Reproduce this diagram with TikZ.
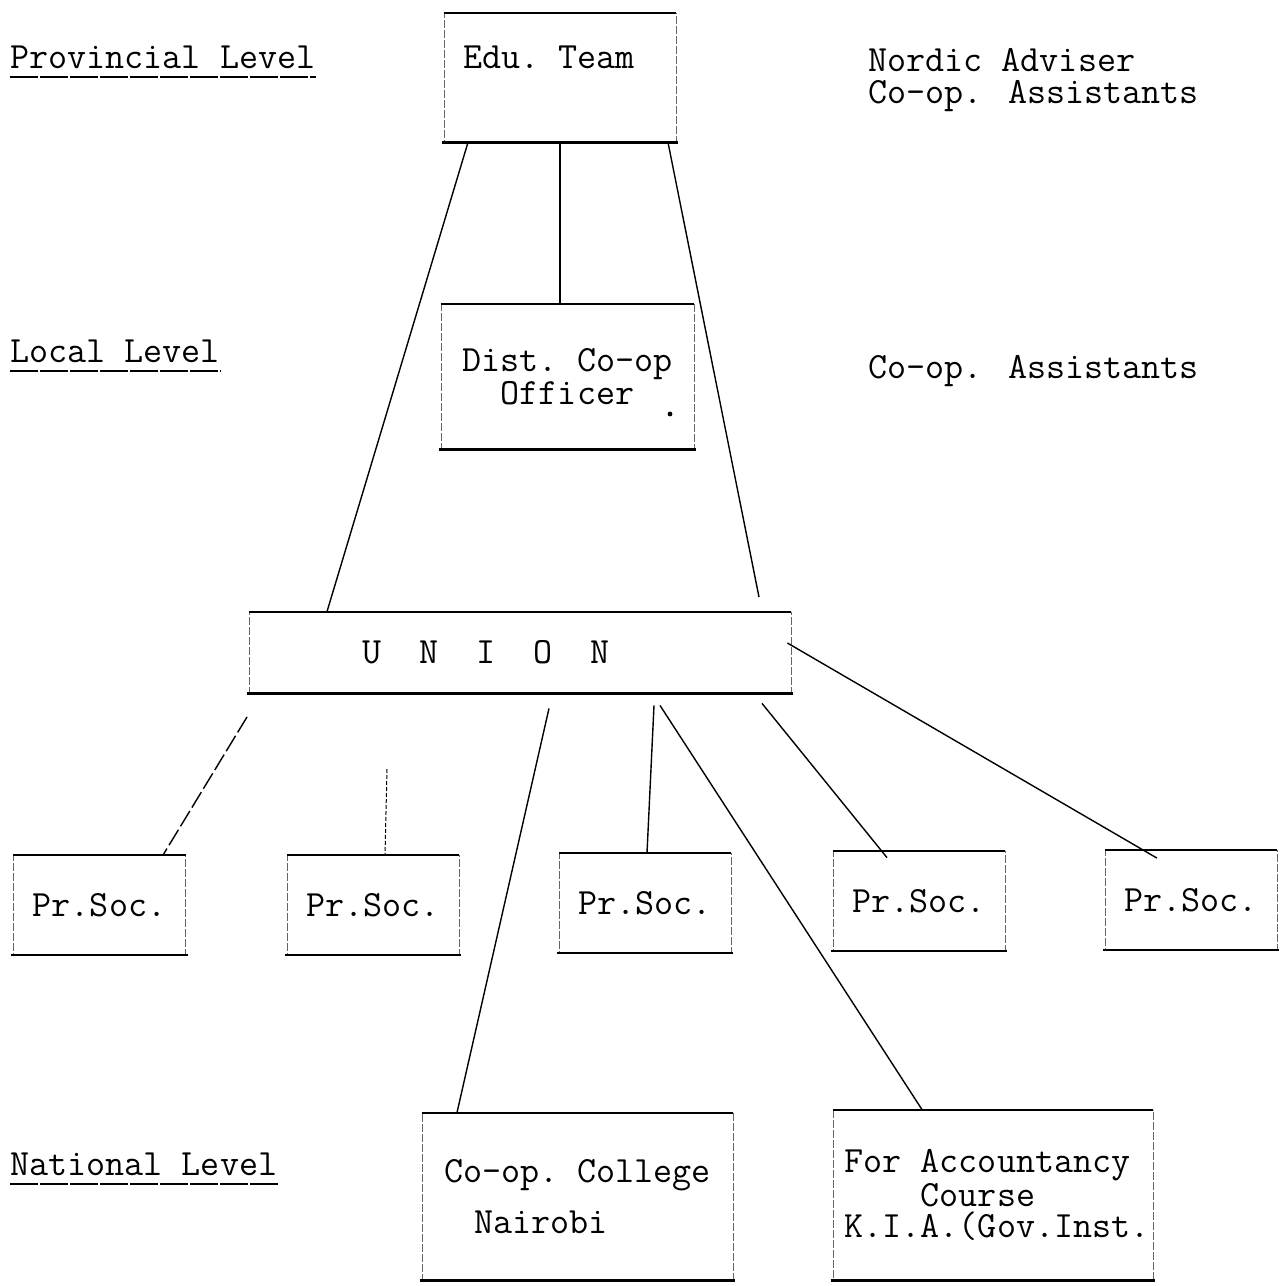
\documentclass[tikz,border=0pt]{standalone}
\usepackage{fontspec}
\usetikzlibrary{positioning}
\newcommand{\tyfont}{\ttfamily\fontsize{18.5}{15.5}\selectfont}
\tikzset{
  box/.style={draw=black!60, line width=0.4pt, dash pattern=on 4pt off 1pt,
    inner sep=0pt, font=\tyfont},
  hrule/.style={line width=1.1pt, shorten <=-1pt, shorten >=-1pt},
  link/.style={line width=0.7pt},
  lbl/.style={inner sep=0pt, anchor=base west, font=\tyfont},
  uline/.style={line width=1.2pt, dash pattern=on 14pt off 1pt},
}

\begin{document}
\begin{tikzpicture}[x=0.5pt, y=-0.5pt]
  \useasboundingbox (0,0) rectangle (1287,1286);

  % levels on the left
  \node[lbl] (prov) at (10,68) {Provincial Level};
  \node[lbl] (local) at (10,362) {Local Level};
  \node[lbl] (natl) at (10,1175) {National Level};
  \foreach \n in {prov,local,natl}
    \draw[uline] ([yshift=-4.5pt]\n.base west) -- ([yshift=-4.5pt]\n.base east);

  % staff on the right
  \node[lbl] (nordic) at (868,71) {Nordic Adviser};
  \node[lbl, below=16pt of nordic.base west, anchor=base west] (assist) {Co-op. Assistants};
  \node[lbl] (localassist) at (868,378) {Co-op. Assistants};

  % boxes
  \node[box, minimum width=116pt, minimum height=64.5pt, text height=12pt, text depth=21.5pt]
    (edu) at (560,77.5) {Edu.~Team\hspace*{11pt}};
  \node[box, minimum width=126.5pt, minimum height=72.5pt, align=center]
    (dist) at (567.5,376.5) {Dist.~Co-op\\Officer};
  \fill (670,414) circle (1.2pt);
  \node[box, minimum width=271pt, minimum height=40.5pt]
    (union) at (520,652.5) {U~~N~~I~~O~~N\hspace*{34pt}};
  \foreach \i/\x/\y in {1/99.5/905, 2/373/905, 3/645/903, 4/919/901, 5/1191/900}
    \node[box, minimum width=86pt, minimum height=49.5pt] (ps\i) at (\x,\y) {Pr.Soc.};
  \node[box, minimum width=155.5pt, minimum height=83.5pt, align=left]
    (college) at (577.5,1196.5) {Co-op.~College\\[9pt]\hspace*{15pt}Nairobi};
  \node[box, minimum width=160pt, minimum height=85pt, align=left]
    (acct) at (993,1195) {\hspace*{4pt}For Accountancy\\\hspace*{4pt}\phantom{For }Course\\
      \hspace*{4pt}K.I.A.(Gov.Inst.};

  \foreach \n in {edu,dist,union,ps1,ps2,ps3,ps4,ps5,college,acct}
    \draw[hrule] (\n.north west) -- (\n.north east) (\n.south west) -- (\n.south east);

  % connectors
  \coordinate (eduend) at (759,597);
  \coordinate (u1) at (247,717);
  \coordinate (stub) at (387,769);
  \draw[link] ([xshift=-46pt]edu.south) -- ([xshift=-96.5pt]union.north);
  \draw[link] (edu.south) -- (dist.north -| edu.south);
  \draw[link] ([xshift=54pt]edu.south) -- (eduend);
  \draw[link, dash pattern=on 9pt off 2pt] (u1) -- ([xshift=31.75pt]ps1.north);
  \draw[link, line width=0.5pt, dash pattern=on 2pt off 1pt] (stub) -- ([xshift=6pt]ps2.north);
  \draw[link] ([shift={(14.5pt,-7.5pt)}]union.south) -- ([xshift=-60.25pt]college.north);
  \draw[link] ([shift={(67pt,-6pt)}]union.south) -- ([xshift=1pt]ps3.north);
  \draw[link] ([shift={(70pt,-6pt)}]union.south) -- ([xshift=-35.5pt]acct.north);
  \draw[link] ([shift={(121pt,-5pt)}]union.south) -- ([shift={(-16pt,-3.25pt)}]ps4.north);
  \draw[link] ([shift={(-2pt,4.75pt)}]union.east) -- ([shift={(-17pt,-4pt)}]ps5.north);
\end{tikzpicture}
\end{document}
